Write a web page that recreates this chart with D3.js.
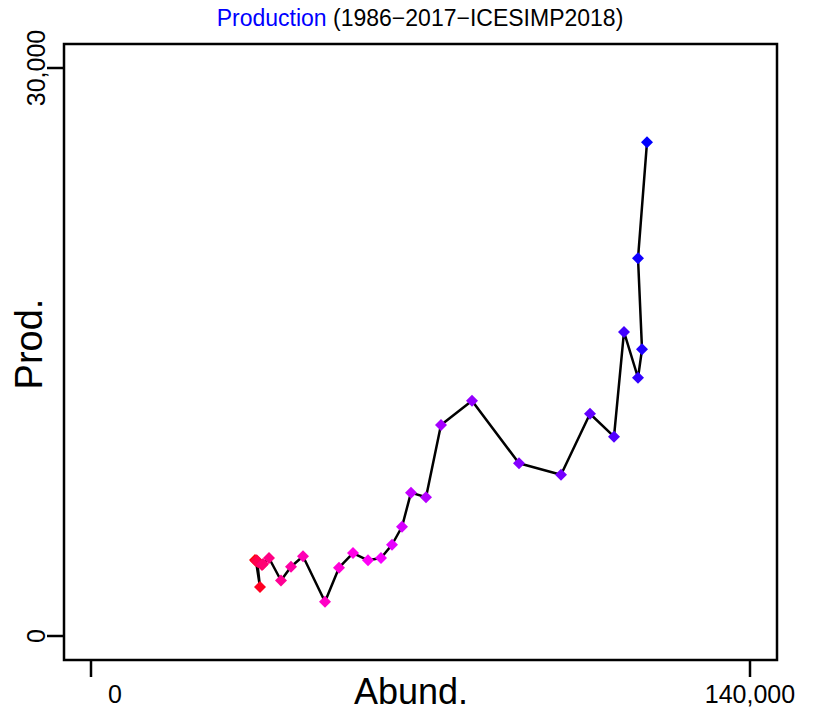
<!DOCTYPE html>
<html>
<head>
<meta charset="utf-8">
<script src="https://cdn.jsdelivr.net/npm/d3@7"></script>
<style>
  html, body { margin: 0; padding: 0; background: #fff; }
  #container { width: 815px; height: 711px; }
  svg { font-family: "Liberation Sans", Arial, sans-serif; }
</style>
</head>
<body>
<div id="container"></div>
<script>
// 数据：年份、资源量（横轴）、生产量（纵轴）
const years = d3.range(1986, 2018);
const abund = [34840, 35300, 35900, 35050, 35200, 35500, 36330, 36540,
  37810, 40360, 42490, 45040, 49710, 52690, 55660, 58850,
  61610, 63940, 66070, 67980, 71170, 74350, 80940, 90920,
  99850, 106010, 111110, 113230, 116210, 117060, 116210, 118120];
const prod = [4010, 3950, 2590, 3960, 4000, 3900, 3750, 3800,
  4120, 2930, 3660, 4210, 1810, 3610, 4380, 4000,
  4120, 4820, 5770, 7570, 7330, 11150, 12430, 9120,
  8520, 11740, 10530, 16060, 13640, 15140, 19950, 26080];
const xTicks = [0, 140000];
const yTicks = [0, 30000];

const width = 815;
const height = 711;
// 绘图框
const box = { left: 64, right: 777, top: 44, bottom: 660 };

const svg = d3.select("#container")
  .append("svg")
  .attr("width", width)
  .attr("height", height)
  .attr("viewBox", [0, 0, width, height]);

const data = years.map((y, i) => ({ year: y, a: abund[i], p: prod[i] }));

// 比例尺
const x = d3.scaleLinear().domain([0, 140000]).range([91, 750]);
const y = d3.scaleLinear().domain([0, 30000]).range([636, 68]);

// 颜色：红 -> 品红 -> 蓝
const hue = d3.scaleLinear()
  .domain([0, data.length - 1])
  .range([360, 240]);
const col = i => d3.hsl(hue(i), 1, 0.5).formatHex();

// 标题
svg.append("text")
  .attr("x", 420)
  .attr("y", 26)
  .attr("text-anchor", "middle")
  .attr("font-size", 23)
  .call(t => t.append("tspan").attr("fill", "#0000ff").text("Production"))
  .call(t => t.append("tspan").attr("fill", "#000").text(" (1986\u22122017\u2212ICESIMP2018)"));

// 边框
svg.append("rect")
  .attr("x", box.left)
  .attr("y", box.top)
  .attr("width", box.right - box.left)
  .attr("height", box.bottom - box.top)
  .attr("fill", "none")
  .attr("stroke", "#000")
  .attr("stroke-width", 2.5);

// 纵轴刻度
const gy = svg.append("g");
gy.selectAll("line")
  .data(yTicks)
  .join("line")
  .attr("x1", box.left - 17)
  .attr("x2", box.left)
  .attr("y1", d => y(d))
  .attr("y2", d => y(d))
  .attr("stroke", "#000")
  .attr("stroke-width", 2.5);
gy.selectAll("text")
  .data(yTicks)
  .join("text")
  .attr("transform", d => `translate(45,${y(d)}) rotate(-90)`)
  .attr("text-anchor", "middle")
  .attr("font-size", 25)
  .text(d => d3.format(",")(d));

// 横轴刻度
const gx = svg.append("g");
gx.selectAll("line")
  .data(xTicks)
  .join("line")
  .attr("x1", d => x(d))
  .attr("x2", d => x(d))
  .attr("y1", box.bottom)
  .attr("y2", box.bottom + 17)
  .attr("stroke", "#000")
  .attr("stroke-width", 2.5);
gx.selectAll("text")
  .data(xTicks)
  .join("text")
  .attr("x", (d, i) => x(d) + (i === 0 ? 24 : 0))
  .attr("y", 703)
  .attr("text-anchor", "middle")
  .attr("font-size", 25)
  .text(d => d3.format(",")(d));

// 轴标题
svg.append("text")
  .attr("x", 411)
  .attr("y", 704)
  .attr("text-anchor", "middle")
  .attr("font-size", 36)
  .text("Abund.");

svg.append("text")
  .attr("transform", "translate(42,344) rotate(-90)")
  .attr("text-anchor", "middle")
  .attr("font-size", 38)
  .text("Prod.");

// 连线
const line = d3.line().x(d => x(d.a)).y(d => y(d.p));
svg.append("path")
  .datum(data)
  .attr("fill", "none")
  .attr("stroke", "#000")
  .attr("stroke-width", 2.5)
  .attr("stroke-linejoin", "round")
  .attr("d", line);

// 菱形数据点
const diamond = d3.symbol().type(d3.symbolSquare).size(72);
svg.append("g")
  .selectAll("path")
  .data(data)
  .join("path")
  .attr("transform", d => `translate(${x(d.a)},${y(d.p)}) rotate(45)`)
  .attr("d", diamond)
  .attr("fill", (d, i) => col(i));
</script>
</body>
</html>
